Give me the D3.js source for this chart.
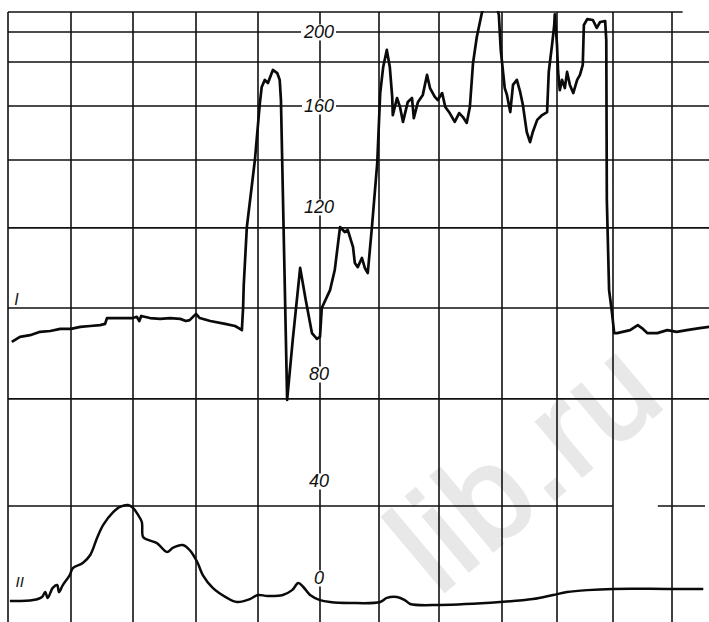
<!DOCTYPE html>
<html>
<head>
<meta charset="utf-8">
<script src="https://cdn.jsdelivr.net/npm/d3@7"></script>
<style>
  body { margin: 0; background: #fff; }
  svg { display: block; }
</style>
</head>
<body>
<div id="chart-area"></div>
<script>
// chart recorder strip: two traces (I, II) on a nonlinear paper scale
const WIDTH = 709
const HEIGHT = 622

// paper: vertical lines by division number, horizontal lines in scale units
const gridCols = d3.range(0, 12)
const gridRows = [200, 183.8, 160, 138.6, 115.0, 95.8, 70.7]
const topBorder = 210.8
const lowRow = 29.7
const tickLabels = [200, 160, 120, 80, 40, 0]

// trace I (division, scale value)
const traceIt = [0.06, 0.19, 0.35, 0.51, 0.67, 0.83, 1.00, 1.15, 1.31, 1.47, 1.55, 1.58, 2.00, 2.06, 2.10, 2.13,
  2.27, 2.43, 2.59, 2.75, 2.84, 2.90, 3.00, 3.06, 3.23, 3.47, 3.63, 3.71, 3.74, 3.76, 3.77, 3.82, 3.95,
  4.03, 4.06, 4.11, 4.16, 4.24, 4.31, 4.35, 4.37, 4.47, 4.56, 4.68, 4.77, 4.87, 4.95, 5.00, 5.03, 5.17,
  5.25, 5.34, 5.42, 5.47, 5.56, 5.59, 5.64, 5.71, 5.76, 5.81, 5.88, 5.97, 6.02, 6.07, 6.13, 6.18, 6.22,
  6.23, 6.30, 6.35, 6.40, 6.48, 6.55, 6.58, 6.65, 6.73, 6.80, 6.85, 6.93, 6.98, 7.05, 7.10, 7.17, 7.25,
  7.32, 7.38, 7.44, 7.49, 7.54, 7.60, 7.68, 7.75, 7.89, 7.95, 7.98, 8.05, 8.09, 8.15, 8.20, 8.27, 8.33,
  8.38, 8.45, 8.51, 8.56, 8.64, 8.73, 8.82, 8.85, 8.91, 8.95, 8.96, 9.00, 9.02, 9.05, 9.09, 9.14, 9.18,
  9.23, 9.29, 9.36, 9.41, 9.46, 9.48, 9.54, 9.64, 9.71, 9.77, 9.86, 9.88, 9.89, 9.93, 9.98, 10.02, 10.07,
  10.29, 10.42, 10.49, 10.58, 10.75, 10.92, 11.08, 11.25, 11.47, 11.63]
const traceIv = [87.7, 88.9, 89.3, 90.1, 90.3, 90.8, 90.8, 91.3, 91.5, 91.7, 92.0, 93.4, 93.4, 93.7, 92.7, 93.9,
  93.4, 93.2, 93.4, 93.2, 92.7, 92.9, 94.4, 93.4, 92.7, 92.0, 91.5, 90.8, 90.5, 96.0, 101.3, 115.2, 138.6,
  161.6, 170.3, 174.1, 172.4, 179.5, 177.8, 174.1, 163.2, 70.3, 88.1, 105.4, 97.7, 89.8, 88.4, 88.9, 95.8, 100.1,
  104.9, 115.2, 114.0, 114.5, 110.4, 106.6, 105.6, 107.8, 105.4, 104.2, 115.2, 137.4, 167.0, 181.1, 190.3, 181.1, 164.9,
  156.4, 164.3, 159.6, 153.7, 162.2, 164.3, 155.2, 162.2, 166.0, 176.8, 169.7, 164.9, 163.2, 167.0, 159.6, 157.2, 153.7,
  157.2, 155.6, 153.3, 159.6, 183.2, 197.3, 210.3, 218, 218, 209.2, 190.3, 169.7, 166.0, 157.6, 171.4, 174.1, 167.6,
  160.5, 149.7, 145.7, 149.7, 154.5, 156.4, 157.6, 178.4, 193.0, 203.8, 209.5, 193.0, 178.4, 168.6, 174.1, 169.7, 178.4,
  171.4, 167.0, 174.1, 176.8, 182.2, 203.8, 207.0, 206.5, 202.2, 205.4, 205.9, 195.7, 122.8, 100.1, 94.9, 89.8, 89.8,
  90.5, 91.7, 91.0, 89.8, 89.8, 90.5, 90.1, 90.5, 91.0, 91.3]

// trace II (division, scale value)
const traceIIt = [0.03, 0.40, 0.54, 0.59, 0.63, 0.71, 0.78, 0.81, 0.87, 0.98, 1.03, 1.19, 1.31, 1.42, 1.52, 1.68,
  1.79, 1.92, 2.00, 2.08, 2.14, 2.16, 2.24, 2.38, 2.54, 2.63, 2.79, 2.90, 3.02, 3.11, 3.27, 3.50, 3.66, 3.87,
  4.00, 4.15, 4.40, 4.55, 4.65, 4.73, 4.84, 5.00, 5.17, 5.51, 6.02, 6.13, 6.30, 6.43, 6.52, 7.02, 7.97, 8.56,
  8.93, 9.18, 9.54, 10.00, 10.92, 11.53]
const traceIIv = [-9.5, -9.1, -7.8, -5.8, -8.2, -4.1, -2.9, -5.8, -2.9, 1.2, 4.1, 6.2, 9.5, 16.5, 21.9, 27.2,
  29.3, 30.1, 28.9, 26.0, 23.1, 16.9, 15.7, 14.4, 10.7, 12.4, 13.6, 11.5, 6.6, 1.2, -4.1, -8.2, -9.9, -8.7,
  -7.0, -7.4, -7.0, -5.0, -2.1, -3.7, -7.0, -9.1, -9.9, -10.3, -9.9, -8.2, -7.8, -9.1, -10.7, -11.1, -9.9, -8.7,
  -7.0, -5.8, -5.0, -4.5, -4.5, -4.5]

const svg = d3.select("#chart-area").append("svg")
  .attr("width", WIDTH)
  .attr("height", HEIGHT)

svg.append("rect").attr("width", WIDTH).attr("height", HEIGHT).attr("fill", "#fff")

// scales (the printed paper is not uniform, so both are piecewise)
const x = d3.scaleLinear()
  .domain(gridCols)
  .range([8, 71, 133, 196, 258, 320, 379, 439, 502, 557, 613, 672])
const y = d3.scaleLinear()
  .domain([0, 40, 80, 120, 160, 200])
  .range([578, 481, 374, 207, 106, 32])

const xEnd = x.invert(WIDTH)
const yBottom = y.invert(HEIGHT)

// watermark of the scan
svg.append("text")
  .attr("transform", "translate(438, 597) rotate(-40)")
  .attr("font-family", "Liberation Sans, Arial, sans-serif")
  .attr("font-size", 134)
  .attr("letter-spacing", 2)
  .attr("fill", "#e8e8e8")
  .attr("stroke", "#e8e8e8")
  .attr("stroke-width", 3)
  .text("lib.ru")

const grid = svg.append("g")
  .attr("stroke", "#111")
  .attr("stroke-width", 1.6)

grid.selectAll(".vline").data(gridCols).enter().append("line")
  .attr("class", "vline")
  .attr("x1", d => x(d)).attr("x2", d => x(d))
  .attr("y1", y(topBorder)).attr("y2", y(yBottom))

grid.selectAll(".hline").data(gridRows).enter().append("line")
  .attr("class", "hline")
  .attr("x1", x(0)).attr("x2", x(xEnd))
  .attr("y1", d => y(d)).attr("y2", d => y(d))

// top edge of the paper stops short of the right side
grid.append("line")
  .attr("x1", x(0)).attr("x2", x(11.18))
  .attr("y1", y(topBorder)).attr("y2", y(topBorder))

// lowest line has a break on the right
const lowSegs = [[0, 10], [10.76, 11.56]]
grid.selectAll(".lowline").data(lowSegs).enter().append("line")
  .attr("class", "lowline")
  .attr("x1", d => x(d[0])).attr("x2", d => x(d[1]))
  .attr("y1", y(lowRow)).attr("y2", y(lowRow))

// scale labels sit on the division-5 line, with a gap cut in the paper lines
const labels = svg.append("g")
  .attr("font-family", "Liberation Sans, Arial, sans-serif")
  .attr("font-style", "italic")
  .attr("font-size", 18)
  .attr("fill", "#111")

tickLabels.forEach(v => {
  const t = labels.append("text")
    .attr("x", x(5) - 1)
    .attr("y", y(v))
    .attr("dy", "0.36em")
    .attr("text-anchor", "middle")
    .text(v)
  const b = t.node().getBBox()
  labels.insert("rect", "text")
    .attr("x", b.x - 2).attr("y", b.y + 2)
    .attr("width", b.width + 4).attr("height", b.height - 4)
    .attr("fill", "#fff")
})

// traces, clipped at the top edge of the paper
svg.append("clipPath").attr("id", "paper")
  .append("rect")
  .attr("x", 0).attr("y", y(topBorder) - 1)
  .attr("width", WIDTH).attr("height", HEIGHT)

const lineI = d3.line()
  .x(i => x(traceIt[i]))
  .y(i => y(traceIv[i]))

const lineII = d3.line()
  .x(i => x(traceIIt[i]))
  .y(i => y(traceIIv[i]))
  .curve(d3.curveCatmullRom.alpha(0.5))

svg.append("path")
  .attr("clip-path", "url(#paper)")
  .attr("fill", "none")
  .attr("stroke", "#0a0a0a")
  .attr("stroke-width", 2.7)
  .attr("stroke-linejoin", "round")
  .attr("d", lineI(d3.range(traceIt.length)))

svg.append("path")
  .attr("fill", "none")
  .attr("stroke", "#0a0a0a")
  .attr("stroke-width", 2.5)
  .attr("stroke-linejoin", "round")
  .attr("d", lineII(d3.range(traceIIt.length)))

// trace names
const names = svg.append("g")
  .attr("font-family", "Liberation Sans, Arial, sans-serif")
  .attr("font-style", "italic")
  .attr("fill", "#111")
names.append("text").attr("x", x(0.1)).attr("y", y(96.6)).attr("font-size", 16).text("I")
names.append("text").attr("x", x(0.12)).attr("y", y(-3.9)).attr("font-size", 15).text("II")
</script>
</body>
</html>
